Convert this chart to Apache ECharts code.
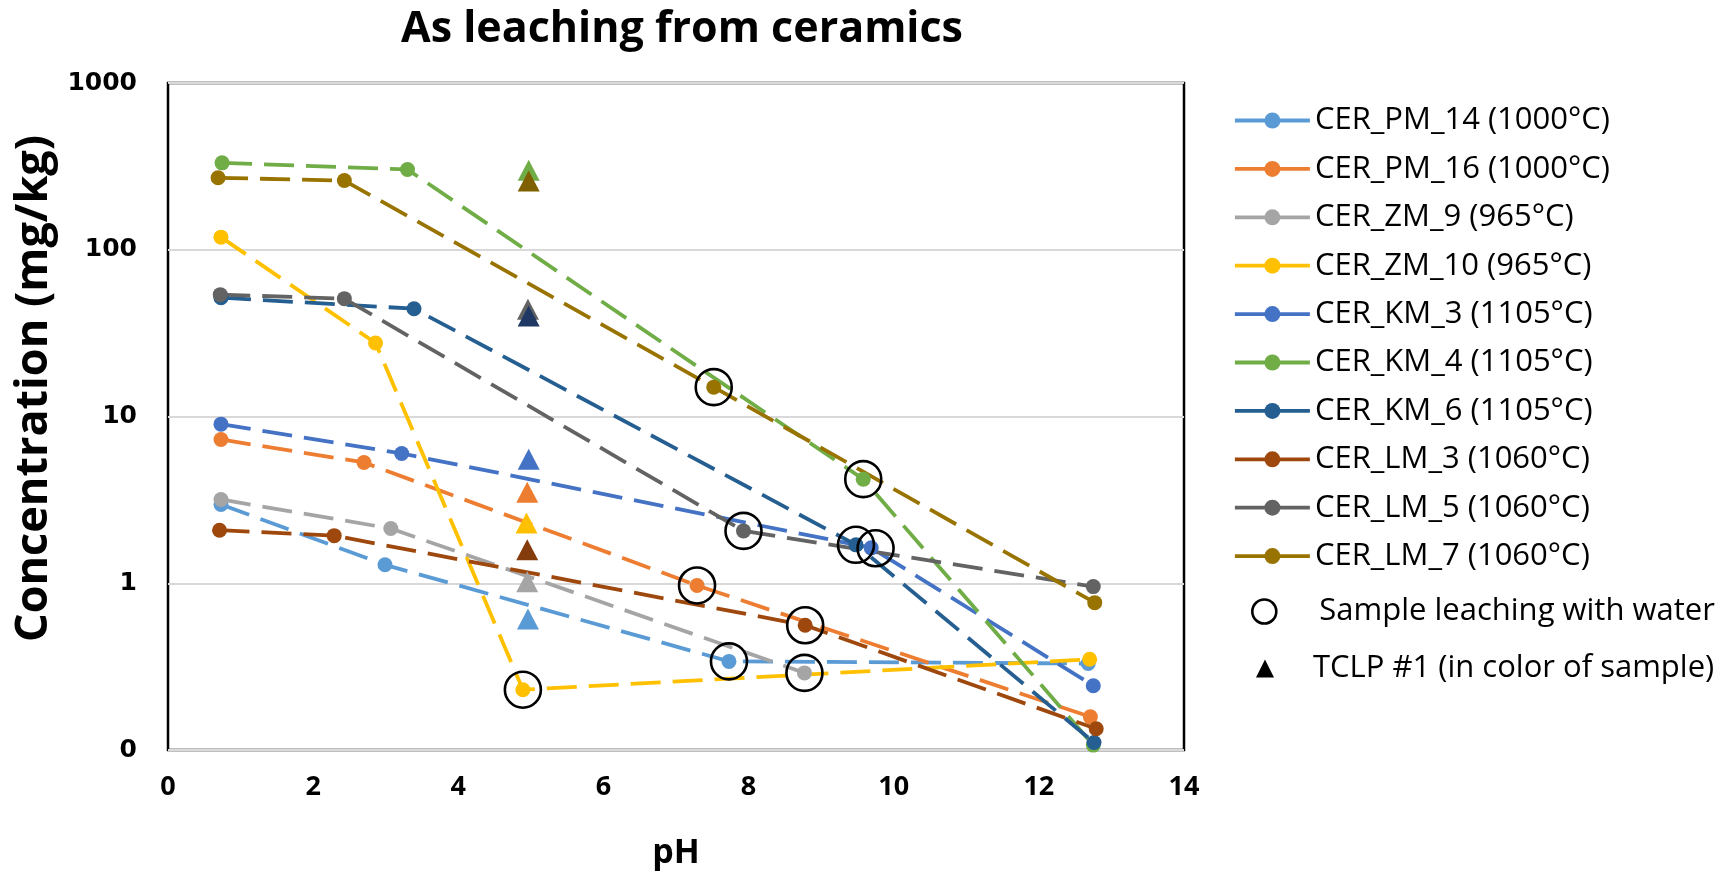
<!DOCTYPE html>
<html><head><meta charset="utf-8">
<script src="https://cdn.jsdelivr.net/npm/echarts@6/dist/echarts.min.js"></script>
<style>html,body{margin:0;padding:0;background:#fff}#c{width:1725px;height:875px}</style>
</head><body><div id="c"></div>
<script>
// ---------- data (pH, concentration mg/kg) ----------
const chartTitle = 'As leaching from ceramics';
const xTitle = 'pH';
const yTitle = 'Concentration (mg/kg)';
const xTicks = [0, 2, 4, 6, 8, 10, 12, 14];
const yTicks = [0.1, 1, 10, 100, 1000];

const seriesNames = [
  'CER_PM_14 (1000°C)', 'CER_PM_16 (1000°C)', 'CER_ZM_9 (965°C)', 'CER_ZM_10 (965°C)',
  'CER_KM_3 (1105°C)', 'CER_KM_4 (1105°C)', 'CER_KM_6 (1105°C)',
  'CER_LM_3 (1060°C)', 'CER_LM_5 (1060°C)', 'CER_LM_7 (1060°C)'
];
const pm14 = [[0.73, 2.97], [2.99, 1.29], [7.73, 0.34], [12.68, 0.33]];
const pm16 = [[0.73, 7.28], [2.70, 5.3], [7.29, 0.97], [12.71, 0.158]];
const zm9  = [[0.73, 3.18], [3.07, 2.13], [8.77, 0.29]];
const zm10 = [[0.73, 119], [2.86, 27.6], [4.89, 0.23], [12.70, 0.35]];
const km3  = [[0.73, 9.0], [3.22, 6.0], [9.69, 1.63], [12.75, 0.243]];
const km4  = [[0.745, 332], [3.30, 303], [9.58, 4.21], [12.75, 0.107]];
const km6  = [[0.73, 51.6], [3.39, 44.3], [9.48, 1.70], [12.76, 0.111]];
const lm3  = [[0.71, 2.08], [2.29, 1.93], [8.78, 0.56], [12.79, 0.134]];
const lm5  = [[0.72, 53.8], [2.43, 50.9], [7.93, 2.06], [12.75, 0.955]];
const lm7  = [[0.69, 270], [2.43, 260], [7.52, 15.0], [12.77, 0.765]];
const seriesData = [pm14, pm16, zm9, zm10, km3, km4, km6, lm3, lm5, lm7];

// Sample leaching with water (open circles)
const waterName = 'Sample leaching with water';
const waterPH     = [4.89, 7.52, 9.58, 7.93, 9.48, 9.75, 7.29, 8.78, 7.73, 8.77];
const waterValues = [0.23, 15.0, 4.21, 2.06, 1.70, 1.62, 0.97, 0.56, 0.34, 0.29];

// TCLP #1 (triangles, colour of sample)
const tclpName = 'TCLP #1 (in color of sample)';
const tclpSamples = ['PM_14', 'PM_16', 'ZM_9', 'ZM_10', 'KM_3', 'KM_4', 'LM_5', 'KM_6', 'LM_3', 'LM_7'];
const tclpPH      = [4.96, 4.95, 4.95, 4.94, 4.97, 4.97, 4.96, 4.97, 4.95, 4.97];
const tclpValues  = [0.61, 3.51, 1.02, 2.30, 5.55, 300, 44, 40, 1.59, 258];

// ---------- styles ----------
const lineColors = ['#5B9BD5', '#ED7D31', '#A5A5A5', '#FFC000', '#4472C4', '#70AD47', '#255E91', '#9E480E', '#636363', '#997300'];
const tclpColors = {PM_14: '#5B9BD5', PM_16: '#ED7D31', ZM_9: '#A5A5A5', ZM_10: '#FFC000', KM_3: '#4472C4',
  KM_4: '#70AD47', LM_5: '#636363', KM_6: '#203864', LM_3: '#843C0C', LM_7: '#7F6000'};

const FONT = "'Open Sans', 'Noto Sans', sans-serif";

const series = seriesNames.map((name, i) => ({
  name, type: 'line', data: seriesData[i],
  symbol: 'circle', symbolSize: 15, showSymbol: true,
  lineStyle: {color: lineColors[i], width: 3.8, type: [30, 12]},
  itemStyle: {color: lineColors[i], opacity: 1},
  z: 2, animation: false
}));
series.push({
  name: waterName, type: 'scatter', symbol: 'circle', symbolSize: 36,
  data: waterPH.map((p, i) => [p, waterValues[i]]),
  itemStyle: {color: 'rgba(0,0,0,0)', borderColor: '#000', borderWidth: 2.6, opacity: 1},
  z: 4, animation: false
});
series.push({
  name: tclpName, type: 'scatter', symbol: 'triangle', symbolSize: [22, 21],
  data: tclpPH.map((p, i) => ({value: [p, tclpValues[i]], itemStyle: {color: tclpColors[tclpSamples[i]], opacity: 1}})),
  itemStyle: {color: '#000', opacity: 1},
  z: 3, animation: false
});

const chart = echarts.init(document.getElementById('c'), null, {renderer: 'canvas'});
chart.setOption({
  animation: false,
  backgroundColor: '#fff',
  title: {
    text: chartTitle, left: 396, top: 3,
    textStyle: {fontFamily: FONT, fontWeight: 'bold', fontSize: 43, color: '#000'}
  },
  grid: {left: 168, right: 541, top: 83, bottom: 125, show: true, borderColor: '#000', borderWidth: 2.5, containLabel: false},
  xAxis: {
    type: 'value', min: xTicks[0], max: xTicks[xTicks.length - 1], interval: 2,
    name: xTitle, nameLocation: 'middle', nameGap: 86,
    nameTextStyle: {fontFamily: FONT, fontWeight: 'bold', fontSize: 34, color: '#000'},
    axisLine: {show: false}, axisTick: {show: false}, splitLine: {show: false},
    axisLabel: {margin: 24, fontFamily: FONT, fontWeight: 'bold', fontSize: 27, color: '#000'}
  },
  yAxis: {
    type: 'log', logBase: 10, min: yTicks[0], max: yTicks[yTicks.length - 1],
    name: yTitle, nameLocation: 'middle', nameGap: 110,
    nameTextStyle: {fontFamily: FONT, fontWeight: 'bold', fontSize: 45, color: '#000', padding: [0, 0, 0, 56]},
    axisLine: {show: false}, axisTick: {show: false},
    splitLine: {show: true, lineStyle: {color: '#D9D9D9', width: 2}},
    axisLabel: {
      margin: 31, fontFamily: "'DejaVu Sans', sans-serif", fontWeight: 'bold', fontSize: 25, color: '#000',
      formatter: v => (v < 1 ? '0' : String(Math.round(v)))
    }
  },
  legend: [
    {
      orient: 'vertical', left: 1233, top: 105, padding: 0,
      itemWidth: 75, itemHeight: 20, itemGap: 17.4,
      data: seriesNames,
      lineStyle: {type: 'solid', width: 3.8},
      textStyle: {fontFamily: FONT, fontSize: 31, color: '#000', lineHeight: 31}
    },
    {
      orient: 'vertical', left: 1251, top: 596, padding: 0,
      itemWidth: 24, itemHeight: 24,
      data: [{name: waterName, icon: 'circle', itemStyle: {color: 'rgba(0,0,0,0)', borderColor: '#000', borderWidth: 2.6, opacity: 1}}],
      textStyle: {fontFamily: FONT, fontSize: 31, color: '#000', lineHeight: 31, padding: [0, 0, 0, 38]}
    },
    {
      orient: 'vertical', left: 1256, top: 653, padding: 0,
      itemWidth: 18, itemHeight: 18,
      data: [{name: tclpName, icon: 'triangle', itemStyle: {color: '#000', opacity: 1}}],
      textStyle: {fontFamily: FONT, fontSize: 31, color: '#000', lineHeight: 31, padding: [0, 0, 0, 34]}
    }
  ],
  series
});
</script>
</body></html>
